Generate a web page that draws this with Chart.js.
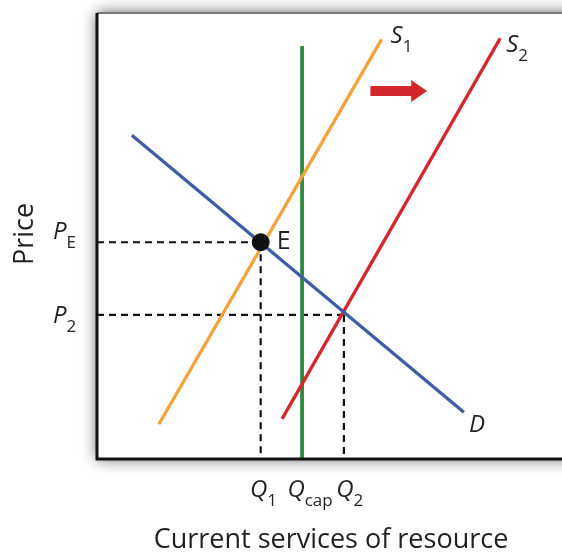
<!DOCTYPE html>
<html>
<head>
<meta charset="utf-8">
<script src="https://cdn.jsdelivr.net/npm/chart.js@4/dist/chart.umd.min.js"></script>
<style>
  html, body { margin: 0; padding: 0; background: #fff; }
  #wrap { width: 562px; height: 552px; }
</style>
</head>
<body>
<div id="wrap"><canvas id="chart" width="562" height="552"></canvas></div>
<script>
// quantity / price in arbitrary units (0-100 on both axes)
const supply1Q = [13.3, 61.2];
const supply1P = [7.8, 94.1];
const supply2Q = [39.8, 86.7];
const supply2P = [9.0, 94.3];
const capQ = [44.1, 44.1];
const capP = [0, 92.6];
const demandQ = [7.5, 78.9];
const demandP = [72.6, 10.5];
const eqQ = [35.2];
const eqP = [48.6];
const capPriceQ = [53.1];
const capPriceP = [32.3];

const priceTickValues = [48.6, 32.3];
const priceTickLabels = [['P', 'E'], ['P', '2']];
const quantityTickValues = [35.2, 44.1, 53.1];
const quantityTickLabels = [['Q', '1'], ['Q', 'cap'], ['Q', '2']];

const ORANGE = '#F4A23A';
const RED = '#D4272C';
const BLUE = '#3D5DA6';
const GREEN = '#2F8B3C';

const pts = (xs, ys) => xs.map((x, i) => ({ x: x, y: ys[i] }));

// draws italic main letter + small subscript, left edge at x
function subLabel(ctx, main, sub, x, y, italic) {
  ctx.font = (italic ? 'italic ' : '') + '24px "Open Sans"';
  ctx.fillText(main, x, y);
  const w = ctx.measureText(main).width;
  ctx.font = '17px "Open Sans"';
  ctx.fillText(sub, x + w, y + 9);
  return w;
}

const frame = {
  id: 'frame',
  beforeDatasetsDraw(chart) {
    const { ctx, chartArea: a } = chart;
    ctx.save();
    ctx.shadowColor = 'rgba(0,0,0,0.65)';
    ctx.shadowBlur = 14;
    ctx.fillStyle = '#fff';
    ctx.fillRect(a.left, a.top, a.right - a.left + 30, a.bottom - a.top);
    ctx.restore();
    ctx.save();
    ctx.strokeStyle = '#7a7a7a';
    ctx.lineWidth = 2;
    ctx.beginPath();
    ctx.moveTo(a.left, a.top);
    ctx.lineTo(a.right, a.top);
    ctx.stroke();
    ctx.restore();
  },
  afterDatasetsDraw(chart) {
    const { ctx, chartArea: a, scales: { x, y } } = chart;
    ctx.save();
    // axes
    ctx.strokeStyle = '#111';
    ctx.lineWidth = 3;
    ctx.beginPath();
    ctx.moveTo(a.left, a.top);
    ctx.lineTo(a.left, a.bottom);
    ctx.lineTo(a.right, a.bottom);
    ctx.stroke();

    // shift arrow
    const ax0 = x.getPixelForValue(58.8), ax1 = x.getPixelForValue(71.0);
    const ay = y.getPixelForValue(82.5);
    ctx.fillStyle = RED;
    ctx.beginPath();
    ctx.moveTo(ax0, ay - 5);
    ctx.lineTo(ax1 - 16, ay - 5);
    ctx.lineTo(ax1 - 16, ay - 11);
    ctx.lineTo(ax1, ay);
    ctx.lineTo(ax1 - 16, ay + 11);
    ctx.lineTo(ax1 - 16, ay + 5);
    ctx.lineTo(ax0, ay + 5);
    ctx.closePath();
    ctx.fill();

    ctx.fillStyle = '#231f20';
    ctx.textBaseline = 'alphabetic';
    ctx.textAlign = 'left';

    // curve labels
    subLabel(ctx, 'S', '1', x.getPixelForValue(supply1Q[1]) + 9, y.getPixelForValue(supply1P[1]) + 4, true);
    subLabel(ctx, 'S', '2', x.getPixelForValue(supply2Q[1]) + 6, y.getPixelForValue(supply2P[1]) + 14, true);
    ctx.font = 'italic 24px "Open Sans"';
    ctx.fillText('D', x.getPixelForValue(demandQ[1]) + 5, y.getPixelForValue(demandP[1]) + 20);
    ctx.font = '25px "Open Sans"';
    ctx.fillText('E', x.getPixelForValue(eqQ[0]) + 16, y.getPixelForValue(eqP[0]) + 7);

    // price tick labels
    const pDy = [-3, 8];
    priceTickValues.forEach((v, i) => {
      const py = y.getPixelForValue(v);
      subLabel(ctx, priceTickLabels[i][0], priceTickLabels[i][1], 53, py + pDy[i], true);
    });

    // quantity tick labels
    const qDx = [-2, -6, 1];
    quantityTickValues.forEach((v, i) => {
      ctx.font = 'italic 24px "Open Sans"';
      const w = ctx.measureText('Q').width;
      const px = x.getPixelForValue(v) + qDx[i] - w / 2;
      subLabel(ctx, quantityTickLabels[i][0], quantityTickLabels[i][1], px, 497, true);
    });

    // axis titles
    ctx.font = '27px "Open Sans"';
    ctx.textAlign = 'center';
    ctx.fillText('Current services of resource', 331, 548);
    ctx.translate(33, 234);
    ctx.rotate(-Math.PI / 2);
    ctx.fillText('Price', 0, 0);
    ctx.restore();
  }
};

const dash = { borderColor: '#111', borderWidth: 2.2, borderDash: [7, 5], pointRadius: 0, showLine: true };

new Chart(document.getElementById('chart'), {
  type: 'scatter',
  data: {
    datasets: [
      { data: pts(eqQ, eqP), pointRadius: 8.5, pointBackgroundColor: '#111', pointBorderColor: '#111', showLine: false },
      { data: pts(demandQ, demandP), borderColor: BLUE, borderWidth: 3.3, pointRadius: 0, showLine: true },
      { data: pts(supply2Q, supply2P), borderColor: RED, borderWidth: 3.3, pointRadius: 0, showLine: true },
      { data: pts(supply1Q, supply1P), borderColor: ORANGE, borderWidth: 3.3, pointRadius: 0, showLine: true },
      { data: pts(capQ, capP), borderColor: GREEN, borderWidth: 3.8, pointRadius: 0, showLine: true },
      Object.assign({ data: [{ x: 0, y: eqP[0] }, { x: eqQ[0], y: eqP[0] }] }, dash),
      Object.assign({ data: [{ x: eqQ[0], y: eqP[0] }, { x: eqQ[0], y: 0 }] }, dash),
      Object.assign({ data: [{ x: 0, y: capPriceP[0] }, { x: capPriceQ[0], y: capPriceP[0] }] }, dash),
      Object.assign({ data: [{ x: capPriceQ[0], y: capPriceP[0] }, { x: capPriceQ[0], y: 0 }] }, dash)
    ]
  },
  options: {
    responsive: false,
    animation: false,
    layout: { autoPadding: false, padding: { left: 97, top: 13, right: 0, bottom: 93 } },
    plugins: { legend: { display: false }, tooltip: { enabled: false } },
    scales: {
      x: { type: 'linear', min: 0, max: 100, display: false },
      y: { type: 'linear', min: 0, max: 100, display: false }
    }
  },
  plugins: [frame]
});
</script>
</body>
</html>
